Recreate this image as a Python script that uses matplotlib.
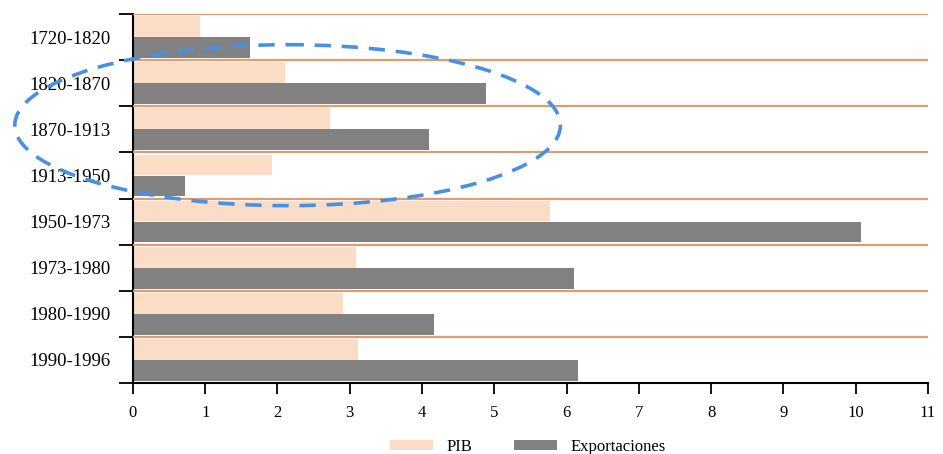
import matplotlib.pyplot as plt
import numpy as np
from matplotlib.patches import Ellipse

periods = ["1720-1820", "1820-1870", "1870-1913", "1913-1950",
           "1950-1973", "1973-1980", "1980-1990", "1990-1996"]
pib = [0.93, 2.11, 2.72, 1.92, 5.77, 3.09, 2.90, 3.12]
exportaciones = [1.62, 4.89, 4.10, 0.72, 10.08, 6.10, 4.16, 6.16]
xticks = list(range(0, 12))

plt.rcParams['font.family'] = ['Liberation Serif', 'DejaVu Serif']

fig = plt.figure(figsize=(9.43, 4.54), dpi=100)
ax = fig.add_axes([0.141, 0.1564, 0.843, 0.8127])

y = np.arange(len(periods))
ax.barh(y - 0.228, pib, height=0.45, color='#fbdcc6', label='PIB', zorder=2)
ax.barh(y + 0.228, exportaciones, height=0.45, color='#818181', label='Exportaciones', zorder=2)

# orange separators between the periods
for b in np.arange(-0.5, len(periods) - 0.5, 1.0):
    ax.axhline(b, color='#e29b70', lw=1.6, zorder=3)

ax.set_xlim(0, 11)
ax.set_ylim(len(periods) - 0.5, -0.5)

ax.set_xticks(xticks)
ax.set_xticklabels([str(t) for t in xticks], fontsize=12)
ax.tick_params(axis='x', direction='out', length=8, width=1.3, pad=8)

ax.set_yticks(np.arange(-0.5, len(periods) + 0.5, 1.0))
ax.set_yticklabels([])
ax.set_yticks(y, minor=True)
ax.set_yticklabels(periods, minor=True, fontsize=13.5)
ax.tick_params(axis='y', which='major', direction='out', length=10, width=1.3)
ax.tick_params(axis='y', which='minor', length=0, pad=16)

for s in ['top', 'right']:
    ax.spines[s].set_visible(False)
ax.spines['left'].set_linewidth(1.5)
ax.spines['bottom'].set_linewidth(1.5)

# dashed highlight around 1820-1913
ell = Ellipse((2.14, 1.91), width=7.55, height=3.49, fill=False,
              edgecolor='#4a90e2', lw=2.6, linestyle=(0, (4.5, 3)),
              zorder=5, clip_on=False)
ax.add_patch(ell)

fig.legend(loc='lower center', ncol=2, frameon=False, fontsize=12,
           bbox_to_anchor=(0.56, -0.035), handlelength=2.6, handleheight=0.5,
           columnspacing=2.5)

plt.savefig("out.png", dpi=100)
